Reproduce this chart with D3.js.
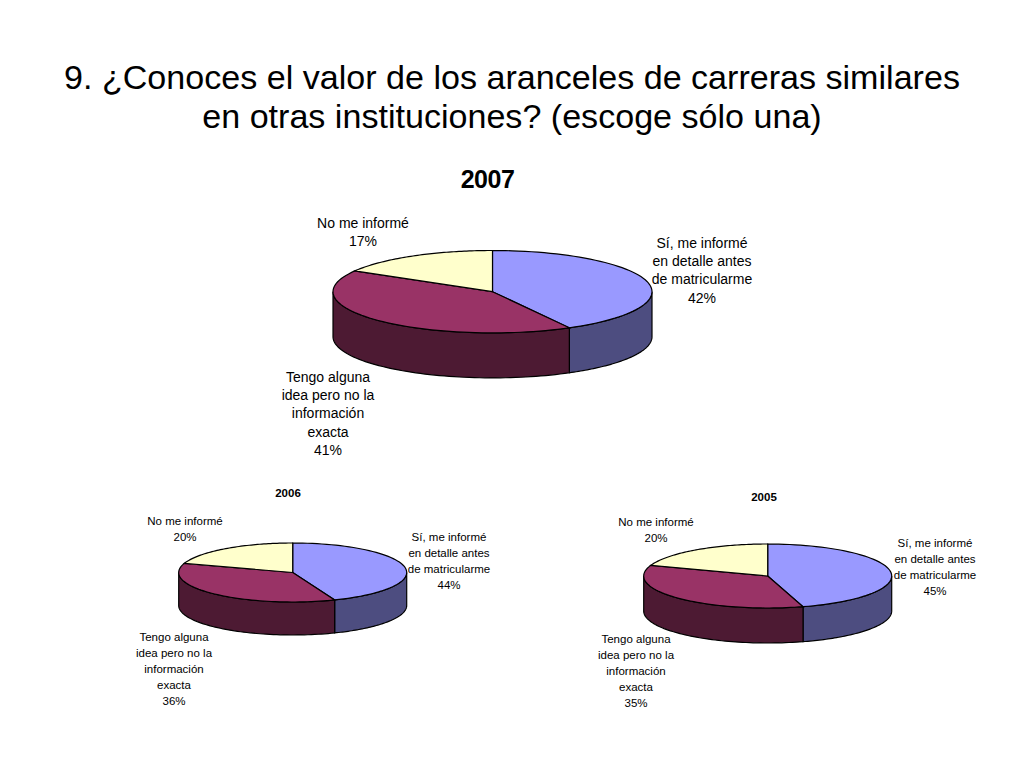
<!DOCTYPE html>
<html>
<head>
<meta charset="utf-8">
<script src="https://cdn.jsdelivr.net/npm/d3@7"></script>
<style>
html,body{margin:0;padding:0;background:#fff}
text{font-family:"Liberation Sans",Arial,sans-serif;fill:#000;text-anchor:middle}
</style>
</head>
<body>
<div class="Chart"></div>
<script>
const titleLines=['9. ¿Conoces el valor de los aranceles de carreras similares','en otras instituciones? (escoge sólo una)']
const years=['2007','2006','2005']
const labelNo=['No me informé']
const labelSi=['Sí, me informé','en detalle antes','de matricularme']
const labelTengo=['Tengo alguna','idea pero no la','información','exacta']
const values2007=[42,41.4,16.6]
const values2006=[44,36,20]
const values2005=[45.4,35,19.6]
const seriesValues=[values2007,values2006,values2005]
const topColors=['#9999ff','#993366','#ffffcc']
const sideColors=['#4d4d80','#4d1a33','#808066']

// where each pie goes on the slide
const layouts=[
	{cx:492.5,cy:291.7,rx:159.5,ry:41.2,depth:45,font:14,lh:18.2,titleFont:25,titleX:487.5,titleY:188,
		si:[702,248],no:[363,228],tengo:[328,382]},
	{cx:292.7,cy:572.5,rx:114,ry:29.5,depth:33,font:11.5,lh:16,titleFont:11.5,titleX:288,titleY:497,
		si:[449,541],no:[185,525],tengo:[174,641]},
	{cx:767.7,cy:576,rx:124,ry:32,depth:35,font:11.5,lh:16,titleFont:11.5,titleX:764,titleY:501,
		si:[935,547],no:[656,526],tengo:[636,643]}
]

const svg=d3.select('.Chart').append('svg')
	.attr('width',1024)
	.attr('height',768)
	.style('display','block')

svg.selectAll('.title')
	.data(titleLines)
	.enter()
	.append('text')
	.attr('class','title')
	.attr('x',512)
	.attr('y',(d,i)=>89+i*39)
	.attr('font-size',34.1)
	.text(d=>d)

const pie=d3.pie().sort(null)

function drawPie(year,values,l){
	const g=svg.append('g')
	const x=d3.scaleLinear().domain([-1,1]).range([l.cx-l.rx,l.cx+l.rx])
	const y=d3.scaleLinear().domain([-1,1]).range([l.cy-l.ry,l.cy+l.ry])
	const line=d3.line().x(d=>x(d[0])).y(d=>y(d[1])+d[2])
	const onEdge=(a,drop)=>[Math.sin(a),-Math.cos(a),drop]
	const arcSteps=(a0,a1)=>d3.range(0,65).map(i=>a0+(a1-a0)*i/64)
	const slices=pie(values)

	// side wall, only the front half of the disc shows
	slices.forEach((s,i)=>{
		const a0=Math.max(s.startAngle,Math.PI/2),a1=Math.min(s.endAngle,Math.PI*1.5)
		if(a1<=a0) return
		const pts=arcSteps(a0,a1).map(a=>onEdge(a,0))
			.concat(arcSteps(a1,a0).map(a=>onEdge(a,l.depth)))
		g.append('path')
			.attr('d',line(pts)+'Z')
			.attr('fill',sideColors[i])
			.attr('stroke','#000')
			.attr('stroke-width',1.2)
	})

	// top of the disc
	slices.forEach((s,i)=>{
		const pts=[[0,0,0]].concat(arcSteps(s.startAngle,s.endAngle).map(a=>onEdge(a,0)))
		g.append('path')
			.attr('d',line(pts)+'Z')
			.attr('fill',topColors[i])
			.attr('stroke','#000')
			.attr('stroke-width',1.2)
	})

	g.append('text')
		.attr('x',l.titleX)
		.attr('y',l.titleY)
		.attr('font-size',l.titleFont)
		.attr('font-weight','bold')
		.attr('letter-spacing',l.titleFont>20?-0.5:0)
		.text(year)

	const pct=v=>Math.round(v)+'%'
	const addLabel=(lines,v,pos)=>{
		g.append('g').selectAll('text')
			.data(lines.concat([pct(v)]))
			.enter()
			.append('text')
			.attr('x',pos[0])
			.attr('y',(d,i)=>pos[1]+i*l.lh)
			.attr('font-size',l.font)
			.text(d=>d)
	}
	addLabel(labelSi,values[0],l.si)
	addLabel(labelTengo,values[1],l.tengo)
	addLabel(labelNo,values[2],l.no)
}

years.forEach((year,i)=>drawPie(year,seriesValues[i],layouts[i]))
</script>
</body>
</html>
